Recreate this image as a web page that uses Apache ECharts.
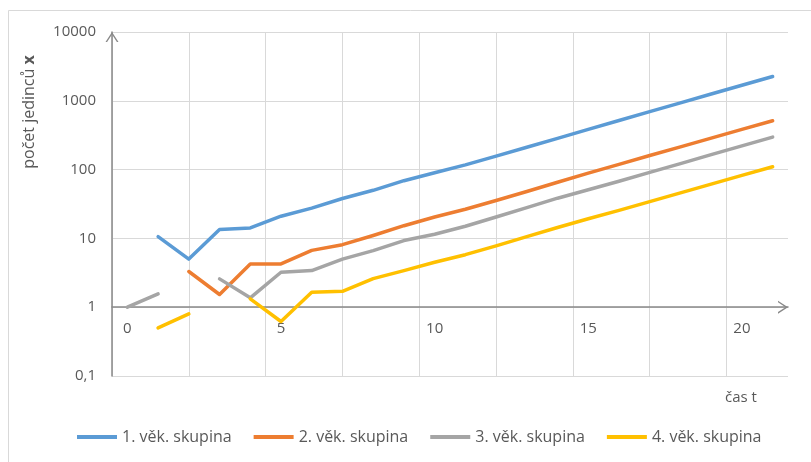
<!DOCTYPE html>
<html>
<head>
<meta charset="utf-8">
<script src="https://cdn.jsdelivr.net/npm/echarts@6/dist/echarts.min.js"></script>
<style>
  html, body { margin: 0; padding: 0; background: #fff; }
  #chart { width: 811px; height: 462px; }
</style>
</head>
<body>
<div id="chart"></div>
<script>
// čas t (kategorie 0..21)
const times = ['0', '1', '2', '3', '4', '5', '6', '7', '8', '9', '10',
    '11', '12', '13', '14', '15', '16', '17', '18', '19', '20', '21']

// počty jedinců podle věkových skupin (null = 0, na log. ose se nekreslí)
const group1 = [null, 10.6, 5.0, 13.5, 14.2, 21, 27.5, 38, 50, 69, 90,
    117, 157, 211, 284, 384, 518, 697, 935, 1256, 1684, 2255]
const group2 = [null, null, 3.3, 1.53, 4.25, 4.25, 6.7, 8.1, 11, 15.3, 20.5,
    26.5, 35.5, 48, 65.5, 89, 119, 160, 214, 287, 384, 513]
const group3 = [1.0, 1.56, null, 2.58, 1.37, 3.22, 3.41, 5.0, 6.65, 9.3, 11.5,
    15, 20.5, 28, 38.4, 51, 67.6, 91, 122, 165, 221, 297]
const group4 = [null, 0.5, 0.8, null, 1.32, 0.62, 1.65, 1.7, 2.6, 3.4, 4.5,
    5.8, 7.8, 10.6, 14.4, 19.3, 25.6, 34.3, 45.9, 61.5, 82.4, 110]

const seriesNames = ['1. věk. skupina', '2. věk. skupina', '3. věk. skupina', '4. věk. skupina']
const seriesColors = ['#5b9bd5', '#ed7d31', '#a5a5a5', '#ffc000']

const yTicks = [0.1, 1, 10, 100, 1000, 10000]
const yTickLabels = ['0,1', '1', '10', '100', '1000', '10000']

const chart = echarts.init(document.getElementById('chart'))

const gridTop = 32
const gridBottom = 86
const plotHeight = 462 - gridTop - gridBottom
const decade = plotHeight / 5 // osa x leží na hodnotě 1

const axisGray = '#898989'
const gridGray = '#d9d9d9'
const textGray = '#595959'
const font = 'Open Sans'
const chevron = 'path://M0,10 L6.5,0 L13,10 L11.4,10 L6.5,2.6 L1.6,10 Z'

const option = {
    backgroundColor: '#fff',
    animation: false,
    grid: { left: 112, right: 23, top: gridTop, bottom: gridBottom },
    legend: {
        data: seriesNames,
        left: 77,
        top: 429,
        padding: 0,
        icon: 'rect',
        itemWidth: 40,
        itemHeight: 4,
        itemGap: 22,
        textStyle: { fontFamily: font, fontSize: 16, color: textGray }
    },
    xAxis: [
        {
            type: 'category',
            data: times,
            boundaryGap: true,
            position: 'bottom',
            offset: -decade,
            axisLine: {
                lineStyle: { color: axisGray, width: 1.5 },
                symbol: ['none', chevron],
                symbolSize: [13, 10],
                symbolOffset: [0, -5]
            },
            axisTick: { interval: 4, length: 7, lineStyle: { color: axisGray } },
            axisLabel: { interval: 4, color: textGray, fontFamily: font, fontSize: 15, margin: 14 },
            splitLine: { show: false }
        },
        {
            // jen svislá mřížka po 2,5
            type: 'value',
            position: 'top',
            min: 0,
            max: 22,
            interval: 2.5,
            axisLine: { show: false },
            axisTick: { show: false },
            axisLabel: { show: false },
            splitLine: { show: true, showMaxLine: false, lineStyle: { color: gridGray, width: 1 } }
        }
    ],
    yAxis: {
        type: 'log',
        logBase: 10,
        min: 0.1,
        max: 10000,
        axisLine: {
            show: true,
            lineStyle: { color: axisGray, width: 1.5 },
            symbol: ['none', chevron],
            symbolSize: [13, 10],
            symbolOffset: [0, -5]
        },
        axisTick: { show: false },
        axisLabel: {
            color: textGray,
            fontFamily: font,
            fontSize: 15,
            margin: 16,
            formatter: v => {
                const i = yTicks.findIndex(t => Math.abs(t - v) < t * 1e-6)
                return i >= 0 ? yTickLabels[i] : ''
            }
        },
        splitLine: { lineStyle: { color: gridGray, width: 1 } }
    },
    graphic: [
        {
            type: 'rect',
            shape: { x: 8.5, y: 10.5, width: 900, height: 600 },
            style: { fill: 'none', stroke: gridGray, lineWidth: 1 },
            silent: true
        },
        {
            type: 'text',
            x: 29,
            y: 112,
            rotation: Math.PI / 2,
            style: {
                text: '{a|počet jedinců }{b|x}',
                textAlign: 'center',
                textVerticalAlign: 'middle',
                rich: {
                    a: { fontFamily: font, fontSize: 16, fill: textGray },
                    b: { fontFamily: font, fontSize: 16, fontWeight: 'bold', fill: textGray }
                }
            }
        },
        {
            type: 'text',
            x: 741,
            y: 398,
            style: {
                text: 'čas t',
                textAlign: 'center',
                textVerticalAlign: 'middle',
                fontFamily: font,
                fontSize: 15,
                fill: textGray
            }
        }
    ],
    series: [group1, group2, group3, group4].map((values, i) => ({
        name: seriesNames[i],
        type: 'line',
        xAxisIndex: 0,
        data: values,
        showSymbol: false,
        symbol: 'none',
        connectNulls: false,
        color: seriesColors[i],
        lineStyle: { width: 3.5, color: seriesColors[i], join: 'round', cap: 'round' },
        z: 3 + i
    }))
}

chart.setOption(option)
</script>
</body>
</html>
